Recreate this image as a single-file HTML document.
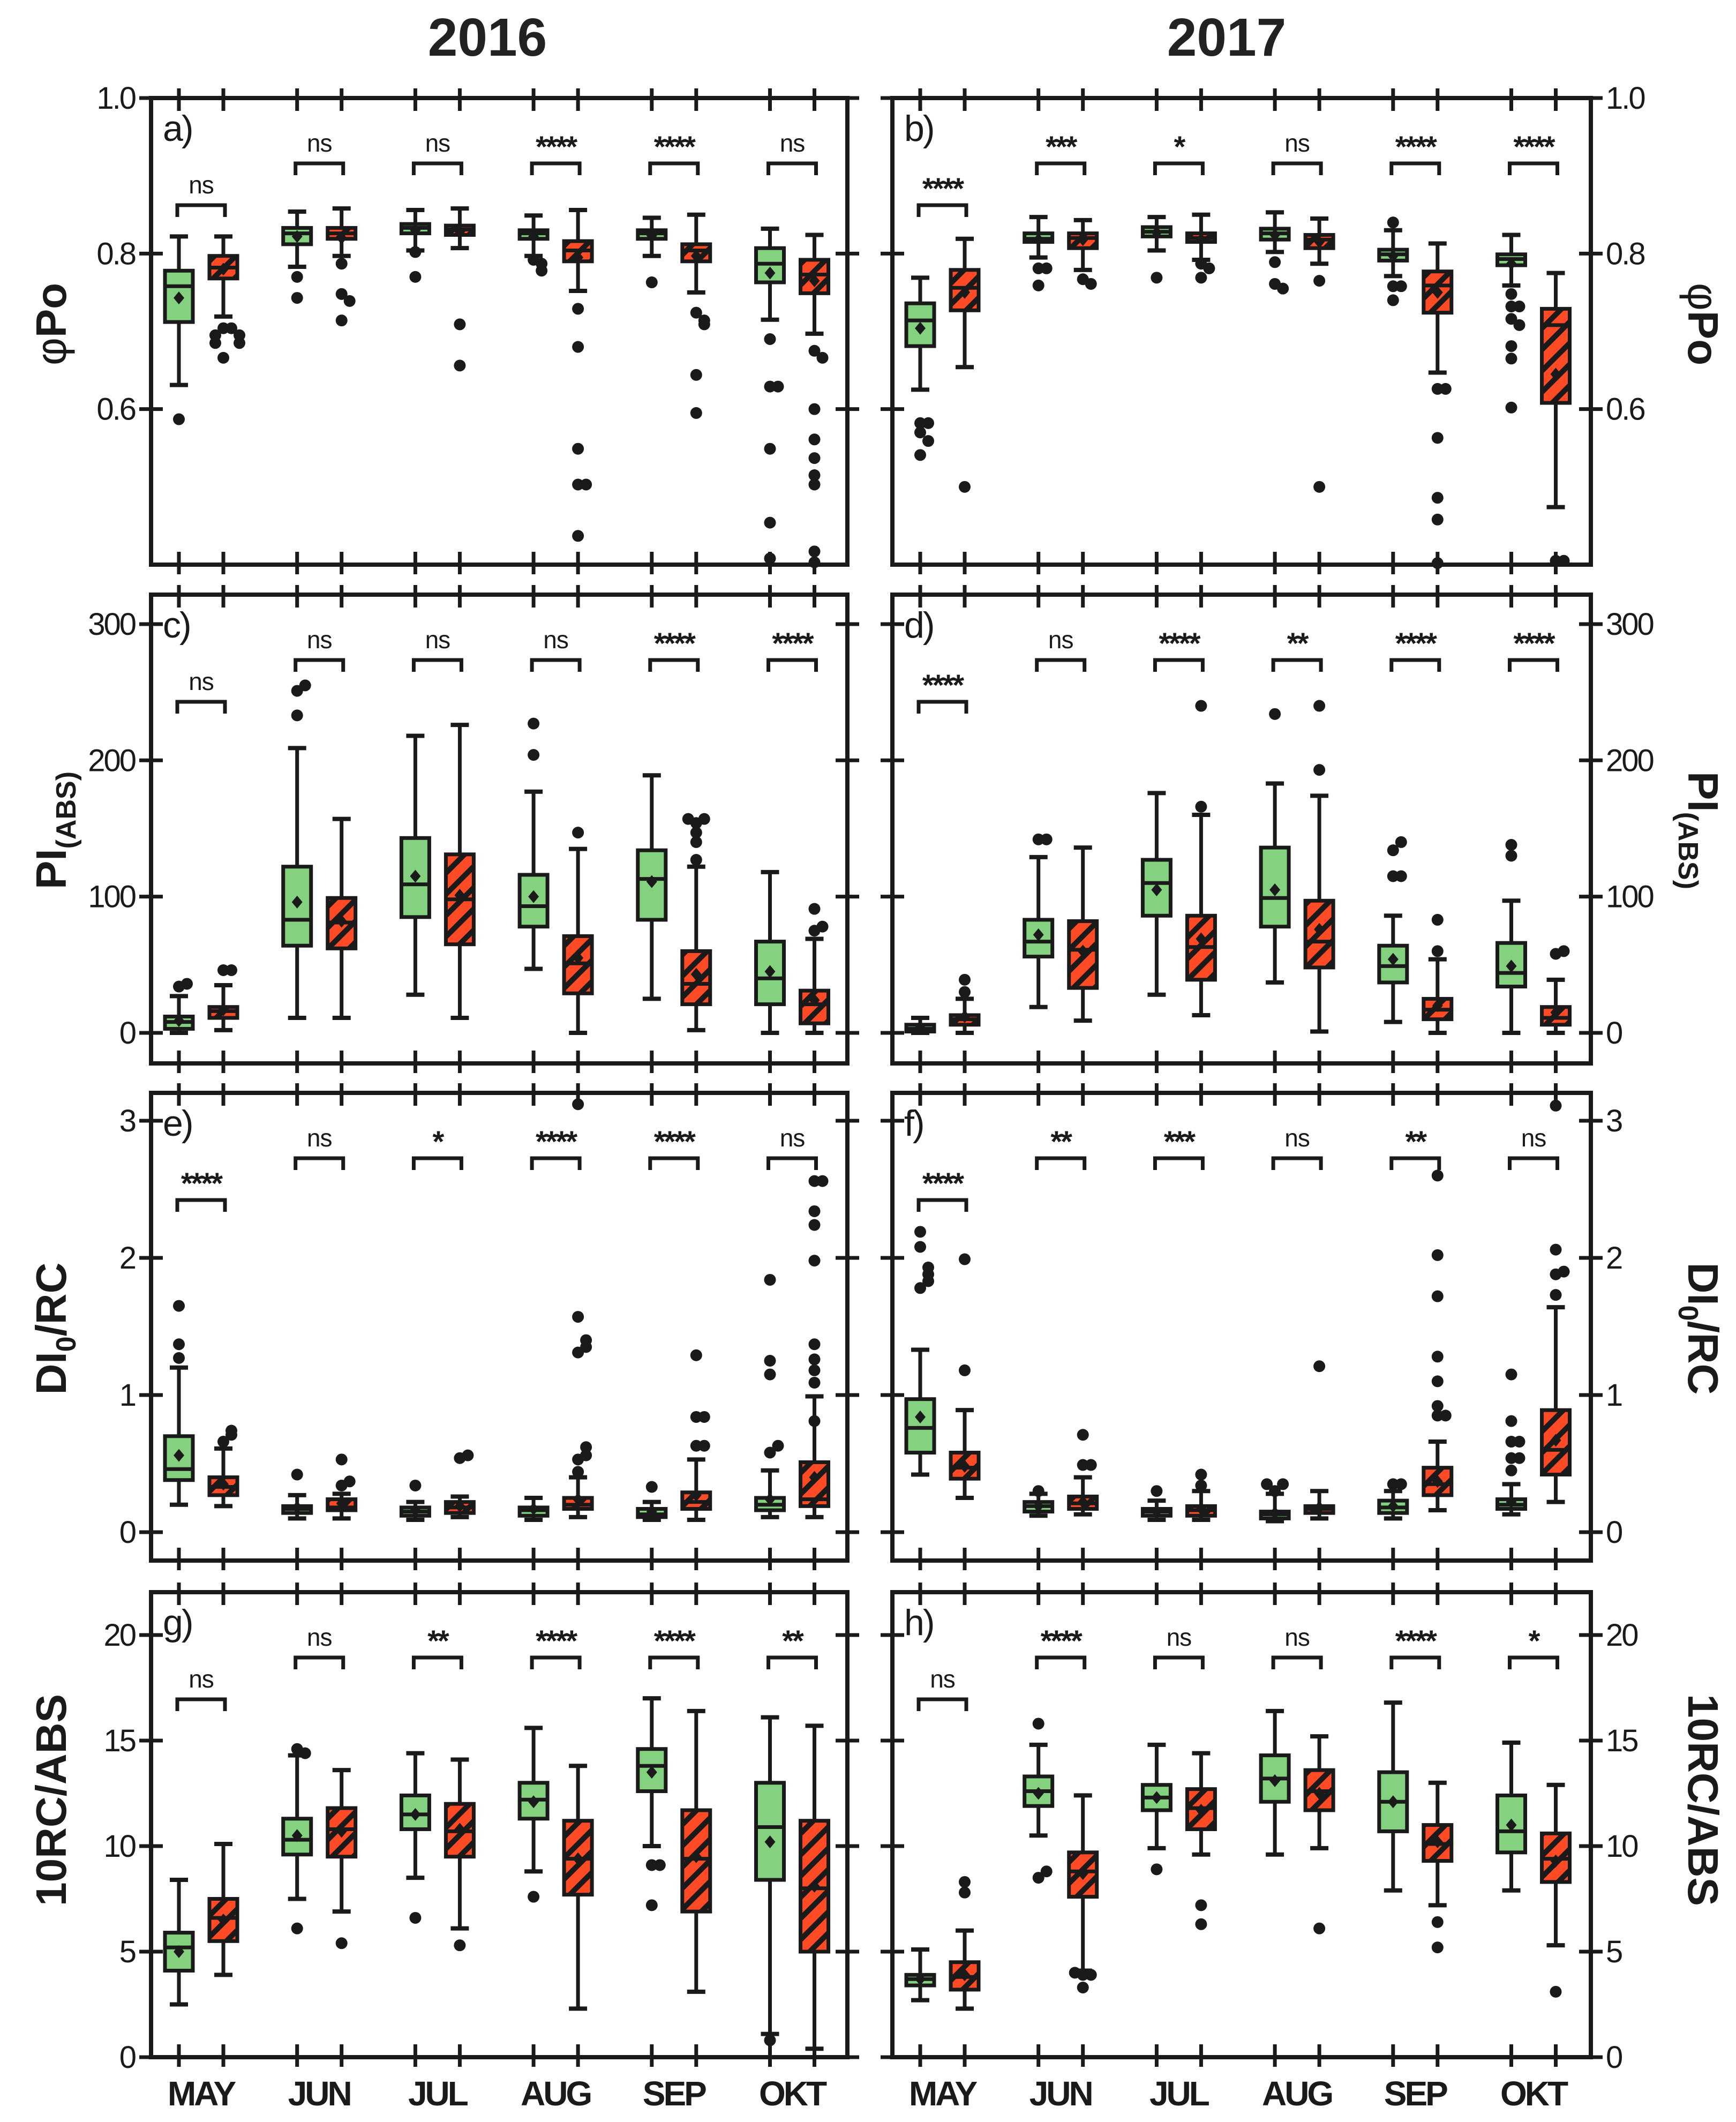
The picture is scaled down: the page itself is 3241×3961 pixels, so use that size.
<!DOCTYPE html>
<html><head><meta charset="utf-8"><style>
html,body{margin:0;padding:0;background:#fff}
svg{display:block;font-family:"Liberation Sans",Arial,sans-serif}
</style></head><body>
<svg id="fig" xmlns="http://www.w3.org/2000/svg" width="3241" height="3961" viewBox="0 0 3241 3961">
<defs>
<pattern id="hatch" patternUnits="userSpaceOnUse" width="28" height="28" patternTransform="rotate(45)">
<rect width="28" height="28" fill="#ff4a26"/><rect x="0" y="0" width="10" height="28" fill="#1a1a1a"/>
</pattern>
</defs>
<rect width="3241" height="3961" fill="#fff"/>
<text x="910" y="104" font-size="100" font-weight="bold" text-anchor="middle" fill="#222">2016</text>
<text x="2290" y="104" font-size="100" font-weight="bold" text-anchor="middle" fill="#222">2017</text>
<g id="plots"></g>
</svg>
<script>
const months = ["MAY","JUN","JUL","AUG","SEP","OKT"];
const a_lo  = [0.631,0.719,0.783,0.797,0.804,0.807,0.797,0.752,0.797,0.750,0.715,0.697];
const a_q1  = [0.712,0.768,0.812,0.819,0.826,0.824,0.819,0.790,0.819,0.790,0.763,0.749];
const a_med = [0.758,0.782,0.826,0.826,0.833,0.831,0.826,0.804,0.826,0.804,0.787,0.773];
const a_q3  = [0.778,0.797,0.833,0.833,0.838,0.836,0.830,0.816,0.830,0.812,0.807,0.792];
const a_hi  = [0.822,0.822,0.854,0.858,0.856,0.858,0.849,0.856,0.846,0.850,0.832,0.824];
const a_mean= [0.743,0.780,0.822,0.820,0.830,0.828,0.822,0.795,0.823,0.797,0.775,0.765];
const a_out = [[0.587],[0.704,0.704,0.695,0.695,0.685,0.685,0.666],[0.770,0.743],[0.787,0.748,0.739,0.714],[0.802,0.770],[0.709,0.656],[0.792,0.787,0.778],[0.729,0.680,0.549,0.503,0.503,0.437],[0.763],[0.724,0.714,0.709,0.644,0.595],[0.690,0.629,0.629,0.549,0.454,0.408],[0.675,0.666,0.600,0.561,0.537,0.515,0.503,0.417,0.403]];
const a_sig = ["ns","ns","ns","****","****","ns"];

const b_lo  = [0.625,0.654,0.795,0.779,0.804,0.792,0.802,0.787,0.771,0.647,0.759,0.474];
const b_q1  = [0.681,0.727,0.815,0.807,0.822,0.815,0.818,0.807,0.791,0.724,0.785,0.608];
const b_med = [0.714,0.756,0.819,0.820,0.828,0.820,0.826,0.818,0.799,0.759,0.793,0.708];
const b_q3  = [0.736,0.779,0.826,0.826,0.834,0.826,0.832,0.824,0.805,0.777,0.799,0.729];
const b_hi  = [0.769,0.819,0.847,0.843,0.847,0.850,0.853,0.845,0.830,0.813,0.824,0.775];
const b_mean= [0.704,0.750,0.818,0.818,0.827,0.818,0.824,0.815,0.797,0.750,0.787,0.645];
const b_out = [[0.582,0.582,0.570,0.559,0.541],[0.500],[0.781,0.781,0.759],[0.767,0.761],[0.769],[0.787,0.781,0.769],[0.789,0.761,0.755],[0.765,0.500],[0.840,0.758,0.758,0.740],[0.626,0.626,0.563,0.486,0.458,0.402],[0.748,0.732,0.732,0.716,0.708,0.681,0.665,0.602],[0.405,0.405]];
const b_sig = ["****","***","*","ns","****","****"];

const c_lo  = [0,2,11,11,28,11,47,0,25,2,0,0];
const c_q1  = [3,11,64,62,85,65,78,29,83,21,21,7];
const c_med = [8,16,83,81,109,98,93,51,113,36,40,21];
const c_q3  = [12,19,122,99,143,131,116,71,134,60,67,31];
const c_hi  = [27,35,209,157,218,226,177,135,189,122,118,69];
const c_mean= [9,17,96,82,115,101,100,55,111,43,45,24];
const c_out = [[34,36],[46,46],[233,251,255],[],[],[],[204,227],[147],[],[127,140,147,154,157,157],[],[75,78,91]];
const c_sig = ["ns","ns","ns","ns","****","****"];

const d_lo  = [0,0,19,9,28,13,37,1,8,0,0,0];
const d_q1  = [1,6,56,33,86,39,78,48,37,10,34,6];
const d_med = [3,10,67,61,110,63,99,67,49,17,44,11];
const d_q3  = [6,13,83,82,127,86,136,97,64,25,66,19];
const d_hi  = [11,25,129,136,176,160,183,174,86,54,97,39];
const d_mean= [4,12,72,60,105,69,105,76,54,20,49,15];
const d_out = [[],[30,39],[142,142],[],[],[166,240],[234],[193,240],[115,115,134,140],[60,83],[130,138],[58,60]];
const d_sig = ["****","ns","****","**","****","****"];

const e_lo  = [0.20,0.19,0.10,0.10,0.09,0.11,0.09,0.11,0.09,0.09,0.11,0.11];
const e_q1  = [0.38,0.27,0.14,0.16,0.12,0.14,0.12,0.17,0.11,0.17,0.16,0.19];
const e_med = [0.46,0.33,0.17,0.18,0.15,0.18,0.16,0.20,0.13,0.22,0.20,0.24];
const e_q3  = [0.70,0.40,0.19,0.24,0.18,0.22,0.18,0.25,0.17,0.29,0.25,0.51];
const e_hi  = [1.20,0.61,0.27,0.28,0.22,0.26,0.25,0.40,0.22,0.53,0.45,0.99];
const e_mean= [0.56,0.35,0.18,0.21,0.16,0.19,0.17,0.24,0.15,0.27,0.24,0.40];
const e_out = [[1.27,1.37,1.65],[0.66,0.71,0.74],[0.42],[0.34,0.37,0.53],[0.34],[0.54,0.56],[],[0.44,0.53,0.56,0.62,1.31,1.35,1.40,1.57,3.12],[0.33],[0.63,0.63,0.84,0.84,1.29],[0.58,0.63,1.15,1.25,1.84],[0.81,1.09,1.18,1.26,1.37,1.98,2.24,2.34,2.56,2.56]];
const e_sig = ["****","ns","*","****","****","ns"];

const f_lo  = [0.42,0.25,0.12,0.13,0.09,0.09,0.08,0.10,0.10,0.16,0.13,0.22];
const f_q1  = [0.58,0.39,0.15,0.17,0.12,0.12,0.10,0.14,0.14,0.27,0.17,0.42];
const f_med = [0.76,0.47,0.19,0.21,0.15,0.16,0.13,0.17,0.18,0.35,0.20,0.60];
const f_q3  = [0.97,0.58,0.22,0.26,0.17,0.19,0.15,0.19,0.23,0.47,0.24,0.89];
const f_hi  = [1.33,0.89,0.28,0.40,0.23,0.30,0.28,0.30,0.30,0.66,0.35,1.64];
const f_mean= [0.84,0.48,0.19,0.22,0.15,0.17,0.14,0.18,0.19,0.37,0.22,0.67];
const f_out = [[1.78,1.83,1.88,1.93,2.08,2.19],[1.18,1.99],[0.30],[0.49,0.49,0.71],[0.30],[0.34,0.42],[0.30,0.35,0.35],[1.21],[0.35,0.35],[0.85,0.85,0.92,1.10,1.28,1.72,2.02,2.60],[0.45,0.54,0.54,0.66,0.66,0.81,1.15],[1.73,1.88,1.90,2.06,3.11]];
const f_sig = ["****","**","***","ns","**","ns"];

const g_lo  = [2.5,3.9,7.5,6.9,8.5,6.1,8.8,2.3,10.0,3.1,1.1,0.4];
const g_q1  = [4.1,5.5,9.6,9.5,10.8,9.5,11.3,7.7,12.6,6.9,8.4,5.0];
const g_med = [5.2,6.6,10.3,10.8,11.5,10.7,12.2,9.4,13.8,9.4,10.9,8.0];
const g_q3  = [5.9,7.5,11.3,11.8,12.4,12.0,13.0,11.2,14.6,11.7,13.0,11.2];
const g_hi  = [8.4,10.1,14.3,13.6,14.4,14.1,15.6,13.8,17.0,16.4,16.1,15.7];
const g_mean= [5.0,6.5,10.5,10.7,11.5,10.8,12.1,9.4,13.5,9.5,10.2,8.1];
const g_out = [[],[],[14.6,14.4,6.1],[5.4],[6.6],[5.3],[7.6],[],[9.1,9.1,7.2],[],[0.8],[]];
const g_sig = ["ns","ns","**","****","****","**"];

const h_lo  = [2.7,2.3,10.5,4.1,9.9,9.6,9.6,9.9,7.9,7.2,7.9,5.3];
const h_q1  = [3.4,3.2,11.9,7.6,11.7,10.8,12.1,11.7,10.7,9.3,9.7,8.3];
const h_med = [3.7,3.8,12.6,8.8,12.3,11.8,13.2,12.6,12.1,10.1,10.7,9.4];
const h_q3  = [3.9,4.5,13.3,9.7,12.9,12.7,14.3,13.6,13.5,11.0,12.4,10.6];
const h_hi  = [5.1,6.0,14.8,12.4,14.8,14.4,16.4,15.2,16.8,13.0,14.9,12.9];
const h_mean= [3.7,3.9,12.5,8.7,12.3,11.7,13.1,12.5,12.1,10.2,11.0,9.3];
const h_out = [[],[7.8,8.3],[15.8,8.5,8.8],[3.9,3.9,4.0,3.3],[8.9],[7.2,6.3],[],[6.1],[],[6.4,5.2],[],[3.1]];
const h_sig = ["ns","****","ns","ns","****","*"];

const tickVals1 = [0.6,0.8,1.0], tickLab1 = ["0.6","0.8","1.0"];
const tickVals2 = [0,100,200,300], tickLab2 = ["0","100","200","300"];
const tickVals3 = [0,1,2,3], tickLab3 = ["0","1","2","3"];
const tickVals4 = [0,5,10,15,20], tickLab4 = ["0","5","10","15","20"];

const NS="http://www.w3.org/2000/svg";
const root=document.getElementById('plots');
function el(tag,attrs,parent){const e=document.createElementNS(NS,tag);for(const k in attrs)e.setAttribute(k,attrs[k]);(parent||root).appendChild(e);return e;}

const cols=[{x0:282,x1:1582},{x0:1666,x1:2970}];
const rows=[
 {top:183,bot:1054,vmin:0.4,vmax:1.0,tv:tickVals1,tl:tickLab1},
 {top:1110,bot:1985,vmin:-22.4,vmax:321.6,tv:tickVals2,tl:tickLab2},
 {top:2040,bot:2913,vmin:-0.207,vmax:3.203,tv:tickVals3,tl:tickLab3},
 {top:2972,bot:3840,vmin:0,vmax:22.03,tv:tickVals4,tl:tickLab4}];
const panels=[
 ["a",0,0,a_lo,a_q1,a_med,a_q3,a_hi,a_mean,a_out,a_sig],
 ["b",0,1,b_lo,b_q1,b_med,b_q3,b_hi,b_mean,b_out,b_sig],
 ["c",1,0,c_lo,c_q1,c_med,c_q3,c_hi,c_mean,c_out,c_sig],
 ["d",1,1,d_lo,d_q1,d_med,d_q3,d_hi,d_mean,d_out,d_sig],
 ["e",2,0,e_lo,e_q1,e_med,e_q3,e_hi,e_mean,e_out,e_sig],
 ["f",2,1,f_lo,f_q1,f_med,f_q3,f_hi,f_mean,f_out,f_sig],
 ["g",3,0,g_lo,g_q1,g_med,g_q3,g_hi,g_mean,g_out,g_sig],
 ["h",3,1,h_lo,h_q1,h_med,h_q3,h_hi,h_mean,h_out,h_sig]];
const INK="#1a1a1a";

panels.forEach(p=>{
 const [id,ri,ci,lo,q1,med,q3,hi,mean,out,sig]=p;
 const R=rows[ri],C=cols[ci];
 const g=el('g',{});
 
 
 const yS=v=>R.bot-(v-R.vmin)/(R.vmax-R.vmin)*(R.bot-R.top);
 const xS=i=>C.x0+52+Math.floor(i/2)*220.7+(i%2)*83;
 const fr=el('rect',{x:C.x0,y:R.top,width:C.x1-C.x0,height:R.bot-R.top,fill:'none',stroke:INK,'stroke-width':8},g);
 
 
 for(let i=0;i<12;i++){const x=xS(i);
  el('line',{x1:x,x2:x,y1:R.top-18,y2:R.top+24,stroke:INK,'stroke-width':7},g);
  el('line',{x1:x,x2:x,y1:R.bot-24,y2:R.bot+18,stroke:INK,'stroke-width':7},g);}
 R.tv.forEach((v,k)=>{const y=yS(v);
  [C.x0,C.x1].forEach(xx=>el('line',{x1:xx-22,x2:xx+22,y1:y,y2:y,stroke:INK,'stroke-width':7},g));
  const t=el('text',{x:ci==0?C.x0-30:C.x1+28,y:y+20,'font-size':58,'text-anchor':ci==0?'end':'start',fill:INK,'letter-spacing':-3},g);
  t.textContent=R.tl[k];
  
  
 });
 const pl=el('text',{x:C.x0+22,y:R.top+80,'font-size':68,fill:INK,'letter-spacing':-3},g);
 pl.textContent=id+")";
 
 
 for(let i=0;i<12;i++){
  const x=xS(i),w=52,red=i%2==1;
  const bg=el('g',{},g);
  
  
  el('line',{x1:x,x2:x,y1:yS(hi[i]),y2:yS(lo[i]),stroke:INK,'stroke-width':7},bg);
  el('line',{x1:x-17,x2:x+17,y1:yS(hi[i]),y2:yS(hi[i]),stroke:INK,'stroke-width':8},bg);
  el('line',{x1:x-17,x2:x+17,y1:yS(lo[i]),y2:yS(lo[i]),stroke:INK,'stroke-width':8},bg);
  const yt=yS(q3[i]),yb=yS(q1[i]);
  el('rect',{x:x-w/2,y:yt,width:w,height:Math.max(2,yb-yt),fill:red?'url(#hatch)':'#84d27f',stroke:INK,'stroke-width':7},bg);
  el('line',{x1:x-w/2,x2:x+w/2,y1:yS(med[i]),y2:yS(med[i]),stroke:INK,'stroke-width':7},bg);
  const my=yS(mean[i]);
  el('path',{d:`M${x} ${my-12}L${x+10} ${my}L${x} ${my+12}L${x-10} ${my}Z`,fill:INK},bg);
  let prev=[];
  out[i].forEach(v=>{
   const y=yS(v); if(y<R.top-5||y>R.bot+5) return;
   const n=prev.filter(py=>Math.abs(py-y)<16).length; prev.push(y);
   const dx=n==0?0:(n%2?15:-15)*Math.ceil(n/2);
   const c=el('circle',{cx:x+dx,cy:y,r:11,fill:INK},bg);
   
   
  });
 }
 for(let m=0;m<6;m++){
  const xa=xS(2*m)-3,xb=xS(2*m+1)+3,by=R.top+(m==0?200:122);
  const sg=el('g',{},g);
  
  
  el('path',{d:`M${xa} ${by+22}V${by}H${xb}V${by+22}`,fill:'none',stroke:INK,'stroke-width':7},sg);
  const st=sig[m].indexOf('*')>=0;
  const t=el('text',{x:(xa+xb)/2,y:by-(st?12:22),'font-size':st?56:46,'font-weight':st?'bold':'normal','text-anchor':'middle',fill:INK,'letter-spacing':st?-3:-1},sg);
  t.textContent=sig[m];
 }
});

[0,1].forEach(ci=>{const C=cols[ci];
 months.forEach((m,k)=>{
  const t=el('text',{x:C.x0+52+k*220.7+41,y:3930,'font-size':64,'font-weight':'bold','text-anchor':'middle',fill:INK,'letter-spacing':-4});
  t.textContent=m;
  
  
 });});

const titles=[
 {cy:605,html:'<tspan font-weight="normal">φ</tspan>Po'},
 {cy:1550,html:'PI<tspan font-size="52" dy="18">(ABS)</tspan>'},
 {cy:2480,html:'DI<tspan font-size="52" dy="18">0</tspan><tspan dy="-18">/RC</tspan>'},
 {cy:3360,html:'10RC/ABS'}];
titles.forEach((tt,r)=>{
 [0,1].forEach(ci=>{
  const x=ci==0?95:3180;
  const rot=ci==0?-90:90;
  const t=el('text',{x:0,y:0,transform:`translate(${x},${tt.cy}) rotate(${rot})`,'font-size':80,'font-weight':'bold','text-anchor':'middle',fill:INK,dy:28});
  t.innerHTML=tt.html;
  
  
 });
});
</script>
</body></html>
